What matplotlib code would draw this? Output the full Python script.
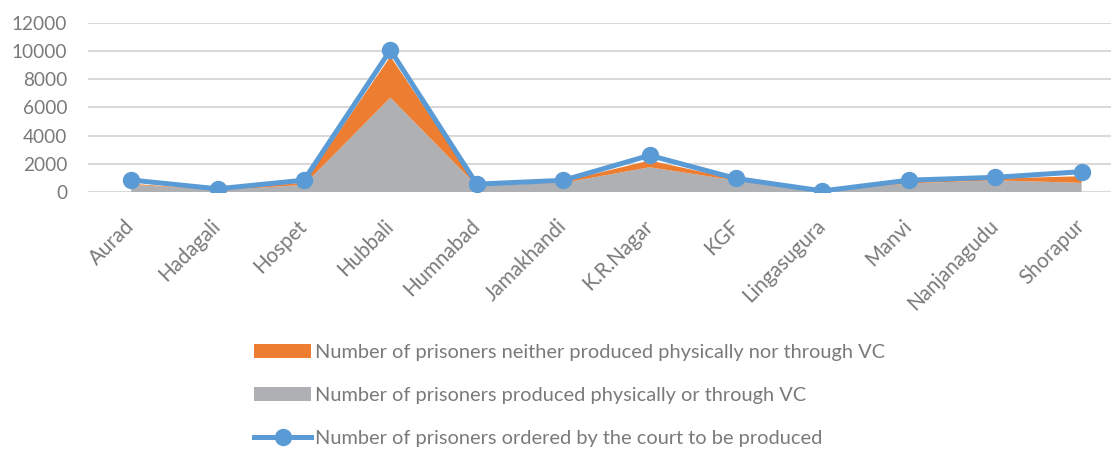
import matplotlib.pyplot as plt
import numpy as np

plt.rcParams['font.family'] = ['Lato', 'DejaVu Sans']

# data
places = ["Aurad", "Hadagali", "Hospet", "Hubbali", "Humnabad", "Jamakhandi",
          "K.R.Nagar", "KGF", "Lingasugura", "Manvi", "Nanjanagudu", "Shorapur"]
ordered = [880, 260, 870, 10050, 590, 860, 2620, 990, 110, 870, 1070, 1470]
produced = [560, 160, 540, 6700, 480, 680, 1780, 850, 60, 650, 860, 680]
not_produced = [60, 20, 150, 2900, 60, 100, 480, 80, 20, 100, 120, 470]

text_col = '#7a7a7a'
x = np.arange(len(places))

fig = plt.figure(figsize=(11.11, 4.49), dpi=100)
ax = fig.add_axes([88 / 1111, 1 - 192.5 / 449, 1 - 88 / 1111, 170 / 449])

polys = ax.stackplot(x, produced, not_produced, colors=['#afb0b3', '#ed7d31'],
                     labels=['Number of prisoners produced physically or through VC',
                             'Number of prisoners neither produced physically nor through VC'],
                     zorder=2, linewidth=0)
line, = ax.plot(x, ordered, color='#5b9bd5', lw=3.6, marker='o', ms=11.5,
                label='Number of prisoners ordered by the court to be produced', zorder=3)

ax.set_ylim(0, 12000)
ax.set_xlim(-0.5, 11.34)
ax.set_yticks(range(0, 12001, 2000))
ax.yaxis.grid(True, color='#d9d9d9', lw=1.5, zorder=0)
ax.set_axisbelow(True)
for s in ax.spines.values():
    s.set_visible(False)
ax.tick_params(axis='y', length=0, labelsize=13.7, labelcolor=text_col, pad=15)
ax.set_xticks(x)
ax.set_xticklabels(places, rotation=45, ha='right', va='center', rotation_mode='anchor')
ax.tick_params(axis='x', length=0, labelsize=14.8, labelcolor=text_col, pad=22)

handles = [polys[1], polys[0], line]
labels = [h.get_label() for h in handles]
leg = fig.legend(handles, labels, loc='upper left', bbox_to_anchor=(246 / 1111, 1 - 336 / 449),
                 frameon=False, fontsize=14.4, handlelength=2.85, handletextpad=0.2,
                 labelspacing=1.3, borderaxespad=0)
for t in leg.get_texts():
    t.set_color(text_col)

fig.savefig('out.png', dpi=100)
